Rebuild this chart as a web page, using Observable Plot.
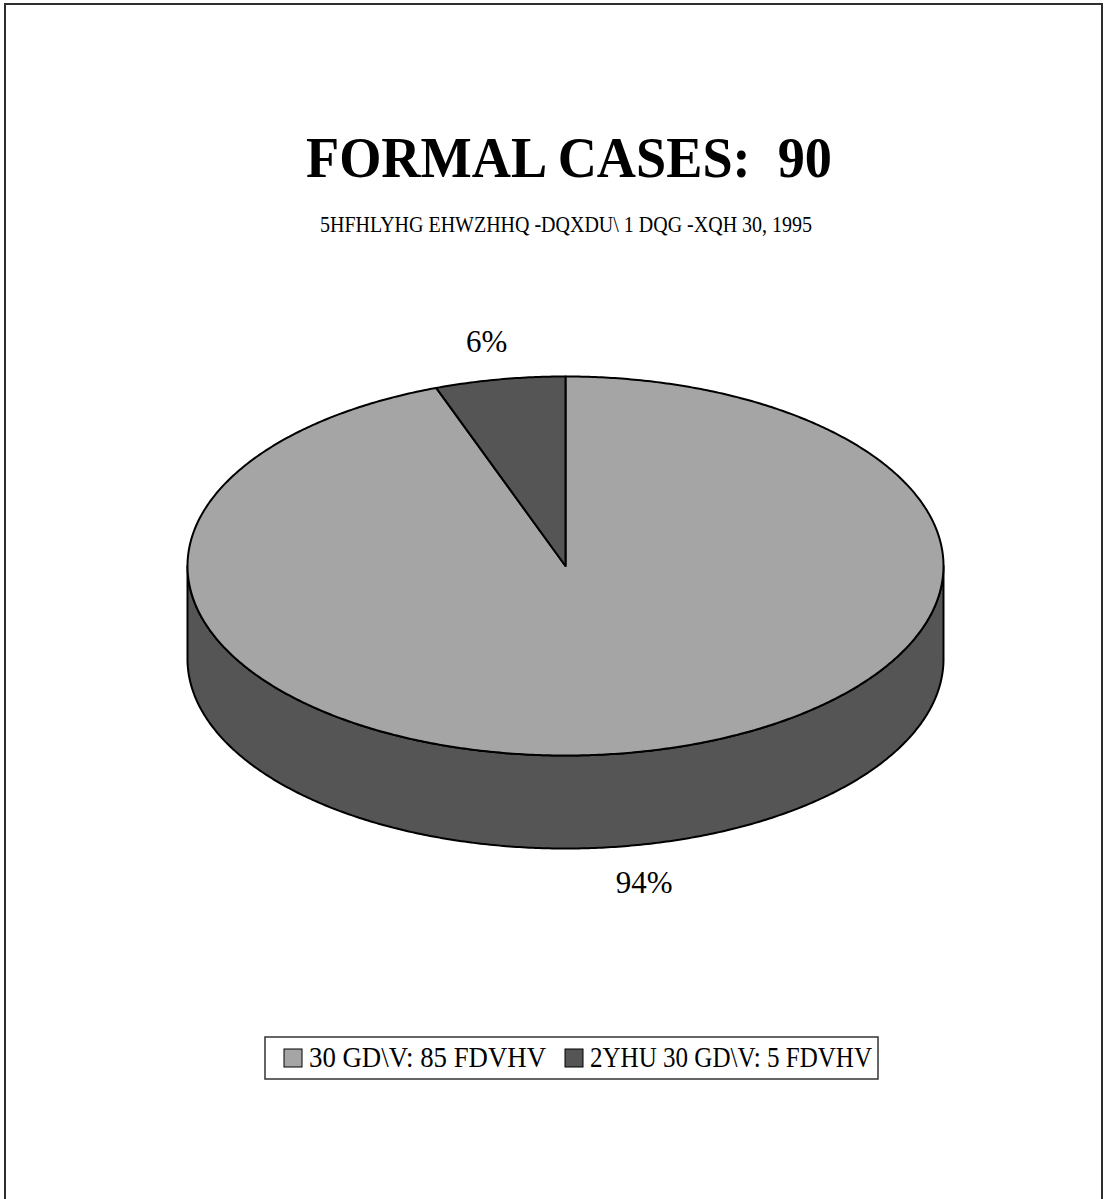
<!DOCTYPE html>
<html>
<head>
<meta charset="utf-8">
<script src="https://cdn.jsdelivr.net/npm/d3@7"></script>
<script src="https://cdn.jsdelivr.net/npm/@observablehq/plot@0.6"></script>
<style>
  html, body { margin: 0; padding: 0; background: #fff; }
  #page { position: relative; width: 1106px; height: 1199px; overflow: hidden; background: #fff; }
  #frame { position: absolute; left: 4px; top: 3px; width: 1099px; height: 1300px;
           border: 2px solid #2e2e2e; box-sizing: border-box; }
  #chart, #labels { position: absolute; left: 0; top: 0; }
  text { font-family: "Liberation Serif", "Times New Roman", serif; white-space: pre; }
</style>
</head>
<body>
<div id="page">
  <div id="frame"></div>
  <div id="chart"></div>
  <svg id="labels" width="1106" height="1199"></svg>
</div>
<script>
// ---- data ----
const title = "FORMAL CASES:  90";
const subtitle = "5HFHLYHG EHWZHHQ -DQXDU\\ 1 DQG -XQH 30, 1995";
const categories = ["30 GD\\V: 85 FDVHV", "2YHU 30 GD\\V: 5 FDVHV"];
const cases = [85, 5];
const colors = ["#a5a5a5", "#555555"];
const sideColor = "#555555";

// ---- pie layout (pixels) ----
const cx = 565, cy = 565.5, rx = 378, ry = 189.5, depthPx = 93;
const depth = depthPx / ry;           // thickness in ellipse units
const labelRadius = 1.2;

const total = d3.sum(cases);
const rad = Math.PI / 180;

// slices start at 12 o'clock and run clockwise
let acc = 0;
const slices = cases.map((v, i) => {
  const a0 = acc / total * 360;
  acc += v;
  const a1 = acc / total * 360;
  return {i, v, a0, a1, pct: Math.round(v / total * 100)};
});

const onEllipse = (deg, drop = 0) => ({x: Math.sin(deg * rad), y: Math.cos(deg * rad) - drop});

// top face of each slice: centre -> arc -> centre
function slicePolygon(s) {
  const pts = [{x: 0, y: 0}];
  const n = Math.max(2, Math.ceil((s.a1 - s.a0) * 2));
  for (let k = 0; k <= n; ++k) pts.push(onEllipse(s.a0 + (s.a1 - s.a0) * k / n));
  pts.push({x: 0, y: 0});
  return pts;
}

// visible rim (front half of the disc, from 3 o'clock round to 9 o'clock)
function rimPolygon() {
  const front = d3.range(90, 270.01, 0.5);
  const pts = front.map(d => onEllipse(d));
  for (const d of front.slice().reverse()) pts.push(onEllipse(d, depth));
  pts.push(pts[0]);
  return pts;
}

const labelData = slices.map(s => {
  const m = (s.a0 + s.a1) / 2;
  const p = onEllipse(m);
  return {
    x: p.x * labelRadius,
    y: p.y * labelRadius - (p.y < 0 ? depth : 0),
    text: s.pct + "%"
  };
});

const lineStyle = {x: "x", y: "y", stroke: "#000", strokeWidth: 2, strokeLinejoin: "round"};

const chart = Plot.plot({
  width: 1106,
  height: 1199,
  margin: 0,
  style: {background: "transparent", overflow: "visible"},
  x: {domain: [-1, 1], range: [cx - rx, cx + rx], axis: null},
  y: {domain: [-1, 1], range: [cy + ry, cy - ry], axis: null},
  marks: [
    Plot.line(rimPolygon(), {...lineStyle, fill: sideColor}),
    ...slices.map(s => Plot.line(slicePolygon(s), {...lineStyle, fill: colors[s.i]})),
    Plot.text(labelData, {
      x: "x", y: "y", text: "text",
      fontSize: 31, fontFamily: "Liberation Serif", fill: "#000"
    })
  ]
});
document.getElementById("chart").append(chart);

// ---- title, subtitle and legend ----
const svg = d3.select("#labels");

function fitText(str, x, baseline, size, width, weight = "normal") {
  return svg.append("text")
    .attr("x", x).attr("y", baseline)
    .attr("font-size", size).attr("font-weight", weight)
    .attr("fill", "#000")
    .attr("textLength", width)
    .attr("lengthAdjust", "spacingAndGlyphs")
    .text(str);
}

fitText(title, 306, 177, 58, 526, "bold");
fitText(subtitle, 320, 232, 24, 492);

// legend box with two entries
const legendBox = {x: 265, y: 1037, w: 613, h: 42};
const legendSlots = [{x: 284, w: 262}, {x: 565, w: 307}];
const swatch = 18, gap = 7, textBaseline = 1067;

svg.append("rect")
  .attr("x", legendBox.x).attr("y", legendBox.y)
  .attr("width", legendBox.w).attr("height", legendBox.h)
  .attr("fill", "none").attr("stroke", "#333").attr("stroke-width", 1.5);

categories.forEach((c, i) => {
  const slot = legendSlots[i];
  svg.append("rect")
    .attr("x", slot.x).attr("y", textBaseline - swatch)
    .attr("width", swatch).attr("height", swatch)
    .attr("fill", colors[i]).attr("stroke", "#000").attr("stroke-width", 1);
  fitText(c, slot.x + swatch + gap, textBaseline, 29, slot.w - swatch - gap);
});
</script>
</body>
</html>
